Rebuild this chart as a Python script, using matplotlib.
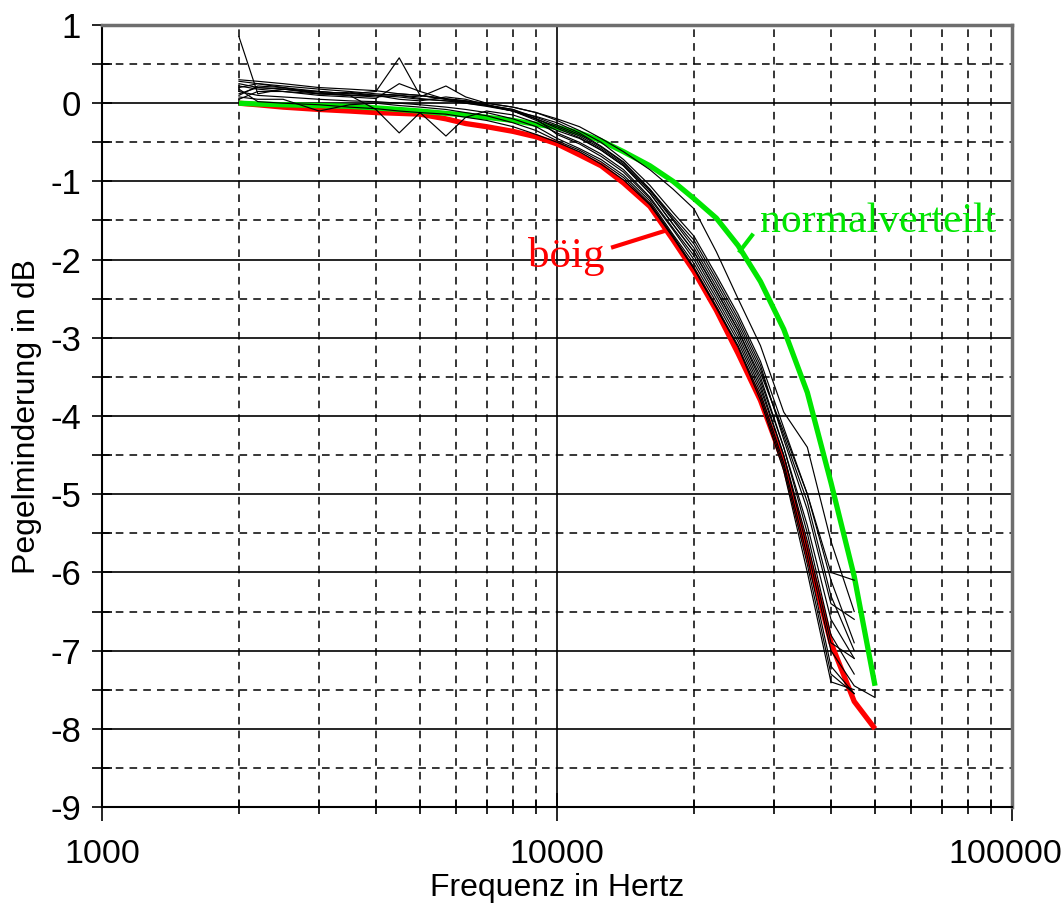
import numpy as np
import matplotlib
matplotlib.use("Agg")
import matplotlib.pyplot as plt
from matplotlib.ticker import FixedLocator, NullFormatter, FixedFormatter
from matplotlib.transforms import ScaledTranslation

plt.rcParams['axes.unicode_minus'] = False
plt.rcParams['font.family'] = ['Liberation Sans', 'DejaVu Sans']

nan = np.nan

# Frequencies (Hz)
freqs = [2000, 2200, 2500, 3000, 3500, 4000, 4500, 5000, 5700, 6300, 7000, 8000, 9000,
         10000, 11200, 12500, 14000, 16000, 18000, 20000, 22400, 25000, 28000,
         31500, 35500, 40000, 45000, 50000]

# Highlighted series (dB)
boeig = [0.0, -0.02, -0.05, -0.08, -0.10, -0.12, -0.13, -0.14, -0.2, -0.26, -0.3, -0.36, -0.43,
         -0.52, -0.66, -0.8, -1.02, -1.32, -1.75, -2.15, -2.65, -3.2, -3.8,
         -4.6, -5.75, -6.9, -7.65, -8.0]
normalverteilt = [0.0, -0.01, -0.02, -0.03, -0.04, -0.06, -0.08, -0.1, -0.13, -0.15, -0.18, -0.22, -0.27,
                  -0.31, -0.38, -0.48, -0.62, -0.8, -1.0, -1.22, -1.47, -1.82, -2.28,
                  -2.89, -3.7, -4.85, -6.05, -7.45]

# Individual measurements (dB)
m01 = [0.2, 0.25, 0.22, 0.18, 0.15, 0.12, 0.1, 0.08, 0.22, 0.08, 0.0, -0.05, -0.12,
       -0.2, -0.3, -0.45, -0.62, -0.85, -1.1, -1.35, -1.9, -2.5, -3.1,
       -3.95, -4.4, -5.6, -6.5, nan]
m02 = [0.85, 0.12, 0.18, 0.15, 0.12, 0.1, 0.08, 0.05, 0.03, 0.0, -0.04, -0.1, -0.17,
       -0.25, -0.38, -0.55, -0.75, -1.1, -1.45, -1.75, -2.25, -2.75, -3.35,
       -4.3, -5.2, -6.4, -6.6, nan]
m03 = [0.28, 0.25, 0.2, 0.15, 0.12, 0.15, 0.58, 0.1, 0.05, 0.02, -0.02, -0.08, -0.2,
       -0.3, -0.42, -0.58, -0.78, -1.12, -1.5, -1.85, -2.35, -2.85, -3.45,
       -4.2, -5.0, -6.0, -6.1, nan]
m04 = [0.12, 0.2, 0.18, 0.14, 0.1, 0.08, 0.1, 0.06, 0.03, 0.02, -0.03, -0.1, -0.22,
       -0.35, -0.45, -0.6, -0.8, -1.15, -1.55, -1.9, -2.4, -2.9, -3.5,
       -4.4, -5.4, -6.6, -7.1, nan]
m05 = [0.05, 0.15, 0.15, 0.12, 0.1, -0.08, -0.38, -0.12, -0.42, -0.18, -0.1, -0.15, -0.25,
       -0.38, -0.5, -0.65, -0.85, -1.2, -1.6, -1.95, -2.45, -2.95, -3.6,
       -4.5, -5.6, -6.9, -7.1, nan]
m06 = [0.15, 0.1, 0.08, 0.05, 0.03, 0.02, 0.0, -0.02, -0.05, -0.08, -0.12, -0.2, -0.3,
       -0.45, -0.58, -0.72, -0.92, -1.25, -1.68, -2.05, -2.55, -3.05, -3.7,
       -4.6, -5.8, -7.2, -7.55, nan]
m07 = [0.22, 0.18, 0.15, 0.1, 0.08, 0.06, 0.25, 0.15, 0.05, 0.03, -0.02, -0.1, -0.2,
       -0.4, -0.52, -0.68, -0.88, -1.22, -1.62, -2.0, -2.5, -3.0, -3.65,
       -4.5, -5.7, -7.0, -7.45, -7.6]
m08 = [0.18, 0.02, 0.0, -0.02, -0.05, -0.07, -0.1, -0.12, -0.14, -0.18, -0.22, -0.3, -0.4,
       -0.5, -0.62, -0.78, -0.98, -1.3, -1.72, -2.12, -2.62, -3.12, -3.8,
       -4.7, -6.0, -7.4, -7.5, nan]
m09 = [0.1, 0.22, 0.2, 0.12, 0.14, 0.1, 0.05, 0.03, 0.08, 0.05, -0.02, -0.1, -0.2,
       -0.32, -0.44, -0.6, -0.8, -1.15, -1.55, -1.9, -2.4, -2.9, -3.55,
       -4.4, -5.5, -6.8, -7.3, nan]
m10 = [0.25, 0.2, 0.18, 0.12, 0.1, 0.1, 0.12, 0.1, 0.05, 0.0, -0.03, -0.08, -0.18,
       -0.28, -0.4, -0.56, -0.76, -1.1, -1.48, -1.8, -2.3, -2.8, -3.4,
       -4.25, -5.1, -6.3, -7.0, nan]
m11 = [0.08, 0.05, 0.05, -0.1, -0.02, 0.0, -0.03, -0.05, -0.08, -0.12, -0.16, -0.25, -0.35,
       -0.48, -0.6, -0.75, -0.95, -1.28, -1.7, -2.1, -2.6, -3.1, -3.75,
       -4.65, -5.9, -7.3, -7.55, nan]
m12 = [0.3, 0.28, 0.25, 0.2, 0.18, 0.16, 0.12, 0.1, 0.06, 0.03, 0.0, -0.05, -0.12,
       -0.22, -0.35, -0.5, -0.72, -1.05, -1.4, -1.7, -2.2, -2.7, -3.3,
       -4.15, -5.0, -6.1, -6.9, nan]
messungen = [m01, m02, m03, m04, m05, m06, m07, m08, m09, m10, m11, m12]

x_major = [1000, 10000, 100000]
x_major_labels = ["1000", "10000", "100000"]
y_ticks = list(range(-9, 2))

GREEN = '#00e600'
RED = '#ff0000'

fig = plt.figure(figsize=(10.64, 9.06), dpi=100)
ax = fig.add_axes([102/1064, 1-807/906, 910/1064, 782/906])
ax.set_xscale('log')
ax.set_xlim(1000, 100000)
ax.set_ylim(-9, 1)

# grid
ax.xaxis.set_major_locator(FixedLocator(x_major))
ax.xaxis.set_major_formatter(FixedFormatter(x_major_labels))
minors = [m * d for d in (1000, 10000) for m in range(2, 10)]
ax.xaxis.set_minor_locator(FixedLocator(minors))
ax.xaxis.set_minor_formatter(NullFormatter())
ax.yaxis.set_major_locator(FixedLocator(y_ticks))
ax.yaxis.set_major_formatter(FixedFormatter([str(v) for v in y_ticks]))
ax.yaxis.set_minor_locator(FixedLocator([v + 0.5 for v in range(-9, 1)]))

ax.grid(which='major', color='black', linewidth=1.2, linestyle='-')
ax.grid(which='minor', color='black', linewidth=1.1, linestyle=(0, (5, 4)))
ax.set_axisbelow(True)

for m in messungen:
    ax.plot(freqs, m, color='black', linewidth=0.85, zorder=3)
ax.plot(freqs, boeig, color=RED, linewidth=3.8, zorder=2, solid_capstyle='butt')
ax.plot(freqs, normalverteilt, color=GREEN, linewidth=3.8, zorder=2, solid_capstyle='butt')

# labels with pointer lines
ax.plot([25250, 26830], [-1.89, -1.69], color=GREEN, linewidth=3.0, zorder=4)
ax.plot([13280, 17100], [-1.84, -1.64], color=RED, linewidth=3.0, zorder=4)
ax.text(28000, -1.65, "normalverteilt", color=GREEN, fontsize=30,
        family=['Liberation Serif', 'DejaVu Serif'], va='baseline', ha='left', zorder=5)
ax.text(8630, -2.1, "böig", color=RED, fontsize=31,
        family=['Liberation Serif', 'DejaVu Serif'], va='baseline', ha='left', zorder=5)

# spines
for s in ('left', 'bottom'):
    ax.spines[s].set_color('black')
    ax.spines[s].set_linewidth(1.5)
for s in ('top', 'right'):
    ax.spines[s].set_color('#6e6e6e')
    ax.spines[s].set_linewidth(2.5)

ax.tick_params(axis='x', which='major', direction='inout', length=20, width=1.2,
               labelsize=24.5, pad=13, top=False)
ax.tick_params(axis='x', which='minor', direction='inout', length=10, width=1.2, top=False)
ax.tick_params(axis='y', which='major', direction='inout', length=14, width=1.2,
               labelsize=25, pad=8, right=False)
ax.tick_params(axis='y', which='minor', direction='inout', length=14, width=1.2, right=False)

ax.set_xlabel("Frequenz in Hertz", fontsize=23, labelpad=2)
ax.set_ylabel("Pegelminderung in dB", fontsize=23, labelpad=6)

# keep the last x tick label inside the canvas, as in the reference
last_tick = ax.xaxis.get_major_ticks()[-1]
last_tick.label1.set_transform(last_tick.label1.get_transform() +
                               ScaledTranslation(-7/100, 0, fig.dpi_scale_trans))

fig.savefig("out.png", dpi=100)
